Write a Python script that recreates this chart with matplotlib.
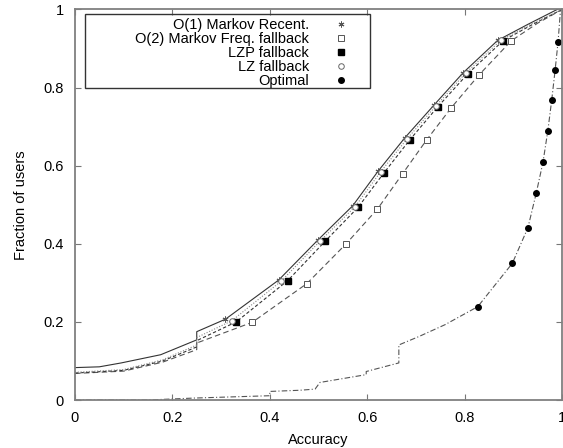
import matplotlib
matplotlib.use('Agg')
import matplotlib.pyplot as plt
from matplotlib.patches import Rectangle

plt.rcParams['font.family'] = ['Liberation Sans', 'DejaVu Sans']
plt.rcParams['font.size'] = 10.5

# CDF curves of prediction accuracy over users
o1_x = [0.0, 0.05, 0.095, 0.176, 0.25, 0.25, 0.309, 0.418, 0.499, 0.570, 0.623, 0.677, 0.737, 0.797, 0.868, 0.93, 0.99]
o1_y = [0.083, 0.085, 0.095, 0.116, 0.154, 0.175, 0.207, 0.307, 0.41, 0.497, 0.587, 0.671, 0.755, 0.838, 0.921, 0.962, 1.0]
o1_px = [0.309, 0.418, 0.499, 0.570, 0.623, 0.677, 0.737, 0.797, 0.868]
o1_py = [0.207, 0.307, 0.41, 0.497, 0.587, 0.671, 0.755, 0.838, 0.921]

o2_x = [0.0, 0.1, 0.18, 0.25, 0.25, 0.364, 0.476, 0.556, 0.621, 0.673, 0.722, 0.773, 0.830, 0.896, 0.95, 1.0]
o2_y = [0.068, 0.074, 0.097, 0.129, 0.146, 0.199, 0.298, 0.399, 0.489, 0.580, 0.666, 0.749, 0.833, 0.920, 0.965, 1.0]
o2_px = [0.364, 0.476, 0.556, 0.621, 0.673, 0.722, 0.773, 0.830, 0.896]
o2_py = [0.199, 0.298, 0.399, 0.489, 0.580, 0.666, 0.749, 0.833, 0.920]

lzp_x = [0.0, 0.1, 0.18, 0.25, 0.25, 0.331, 0.437, 0.514, 0.581, 0.634, 0.688, 0.745, 0.807, 0.879, 0.94, 1.0]
lzp_y = [0.069, 0.076, 0.1, 0.136, 0.152, 0.2, 0.306, 0.407, 0.493, 0.581, 0.667, 0.751, 0.836, 0.920, 0.962, 1.0]
lzp_px = [0.331, 0.437, 0.514, 0.581, 0.634, 0.688, 0.745, 0.807, 0.879]
lzp_py = [0.2, 0.306, 0.407, 0.493, 0.581, 0.667, 0.751, 0.836, 0.920]

lz_x = [0.0, 0.1, 0.18, 0.25, 0.25, 0.322, 0.424, 0.504, 0.575, 0.628, 0.682, 0.741, 0.802, 0.874, 0.94, 1.0]
lz_y = [0.071, 0.078, 0.103, 0.141, 0.160, 0.203, 0.305, 0.408, 0.495, 0.585, 0.669, 0.753, 0.837, 0.921, 0.965, 1.0]
lz_px = [0.322, 0.424, 0.504, 0.575, 0.628, 0.682, 0.741, 0.802, 0.874]
lz_py = [0.203, 0.305, 0.408, 0.495, 0.585, 0.669, 0.753, 0.837, 0.921]

opt_x = [0.0, 0.149, 0.244, 0.40, 0.40, 0.462, 0.493, 0.503, 0.598, 0.598, 0.665, 0.665, 0.707, 0.76,
         0.827, 0.898, 0.930, 0.947, 0.961, 0.971, 0.979, 0.986, 0.992, 0.997]
opt_y = [0.0, 0.0, 0.005, 0.011, 0.022, 0.025, 0.028, 0.045, 0.065, 0.073, 0.095, 0.141, 0.163, 0.193,
         0.239, 0.350, 0.441, 0.529, 0.609, 0.690, 0.769, 0.846, 0.918, 1.0]
opt_px = [0.827, 0.898, 0.930, 0.947, 0.961, 0.971, 0.979, 0.986, 0.992]
opt_py = [0.239, 0.350, 0.441, 0.529, 0.609, 0.690, 0.769, 0.846, 0.918]

ticks = [0, 0.2, 0.4, 0.6, 0.8, 1]
tick_labels = ['0', '0.2', '0.4', '0.6', '0.8', '1']

fig = plt.figure(figsize=(5.63, 4.48), dpi=100)
ax = fig.add_axes([0.1332, 0.1071, 0.865, 0.8717])

lw = 0.8
ax.plot(o1_x, o1_y, color='#333333', lw=lw, ls='-')
ax.plot(o2_x, o2_y, color='#555555', lw=lw, ls=(0, (5, 3)))
ax.plot(lzp_x, lzp_y, color='#333333', lw=lw, ls=(0, (3, 2)))
ax.plot(lz_x, lz_y, color='#888888', lw=lw, ls=(0, (1, 1.5)))
ax.plot(opt_x, opt_y, color='#555555', lw=lw, ls=(0, (5, 2, 1, 2)))

ax.plot(o1_px, o1_py, ls='none', marker=(6, 2, 0), ms=4.2, mec='#555555', mew=0.7,
        label='O(1) Markov Recent.')
ax.plot(o2_px, o2_py, ls='none', marker='s', ms=3.8, mfc='white', mec='#555555', mew=0.7,
        label='O(2) Markov Freq. fallback')
ax.plot(lzp_px, lzp_py, ls='none', marker='s', ms=4.2, color='black',
        label='LZP fallback')
ax.plot(lz_px, lz_py, ls='none', marker='o', ms=4.0, mfc='white', mec='#666666', mew=0.7,
        label='LZ fallback')
ax.plot(opt_px, opt_py, ls='none', marker='o', ms=4.0, color='black',
        label='Optimal')

ax.set_xlim(0, 1)
ax.set_ylim(0, 1)
ax.set_xticks(ticks)
ax.set_xticklabels(tick_labels)
ax.set_yticks(ticks)
ax.set_yticklabels(tick_labels)
ax.tick_params(direction='in', length=4, width=0.8, color='#777777', pad=8,
               top=True, right=True, labelsize=10.5)
for s in ax.spines.values():
    s.set_color('#808080')
    s.set_linewidth(1.3)

ax.set_xlabel('Accuracy', fontsize=10.5, labelpad=6)
ax.set_ylabel('Fraction of users', fontsize=10.5, labelpad=11)

# key box, drawn by hand since the entries sit right-aligned in a wide frame
ax.add_patch(Rectangle((0.02, 0.799), 0.586, 0.189, transform=ax.transAxes,
                       fill=False, ec='#333333', lw=1.0, zorder=5))
ax.legend(loc='upper right', bbox_to_anchor=(0.5616, 0.977), frameon=False,
          markerfirst=False, borderpad=0, borderaxespad=0, handlelength=1,
          handletextpad=1.7, labelspacing=0.0, fontsize=10.5, numpoints=1)

fig.savefig('out.png', dpi=100)
